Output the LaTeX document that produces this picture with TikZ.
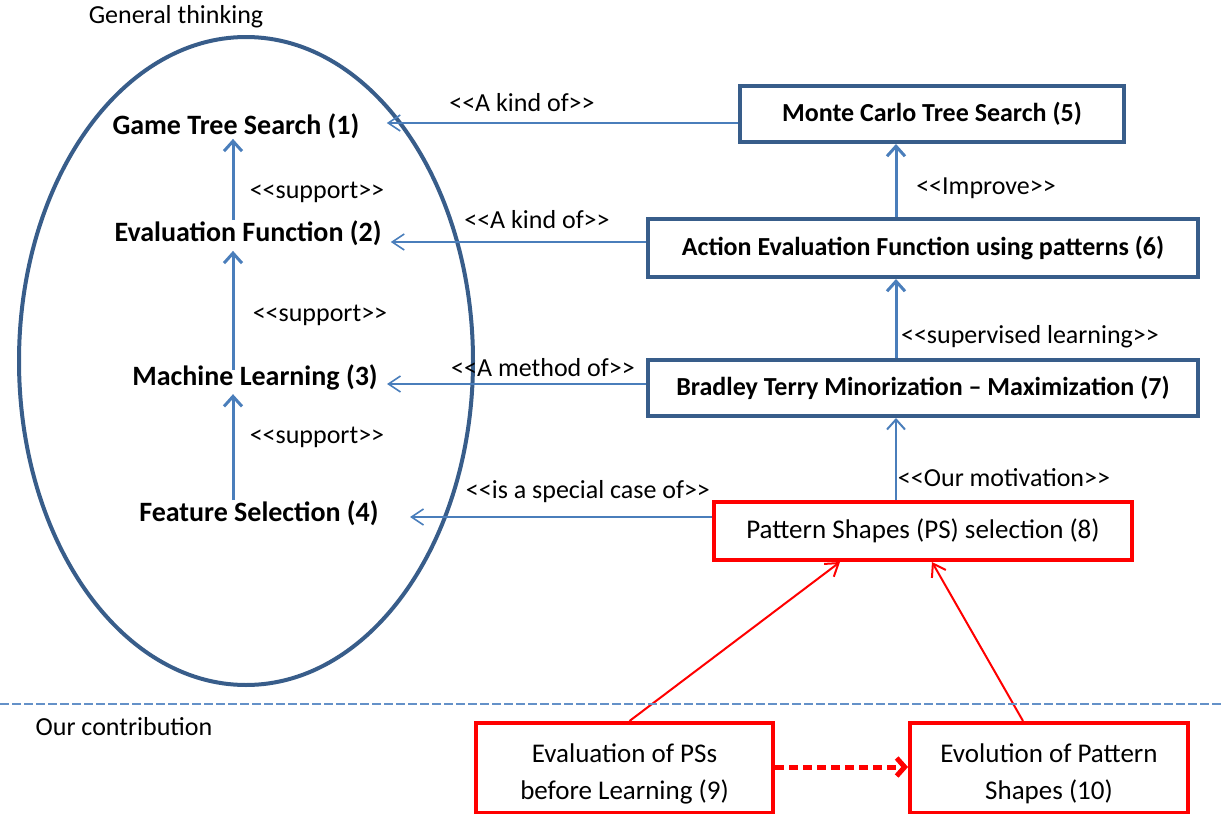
\documentclass[tikz,border=0pt]{standalone}
\usepackage{fontspec}
\setmainfont{Carlito}
\usetikzlibrary{arrows.meta,shapes.geometric}
\definecolor{boxblue}{RGB}{56,93,138}
\definecolor{arrblue}{RGB}{74,126,187}
\definecolor{seplblue}{RGB}{100,145,200}
\definecolor{myred}{RGB}{255,0,0}
\begin{document}
\begin{tikzpicture}[x=0.5pt,y=-0.5pt,
  concept/.style={font=\fontsize{14}{16}\selectfont\bfseries, inner sep=0pt},
  bluebox/.style={draw=boxblue, line width=2pt, font=\fontsize{13}{15}\selectfont\bfseries, minimum height=28pt, inner sep=0pt},
  redbox/.style={draw=myred, line width=2pt, font=\fontsize{13.5}{18.5}\selectfont, align=center, inner sep=0pt},
  lbl/.style={font=\fontsize{13}{15}\selectfont, inner sep=0pt},
  thickarr/.style={draw=arrblue, line width=1.5pt, -{Straight Barb[length=5pt,width=9pt]}},
  thinarr/.style={draw=arrblue, line width=0.8pt, -{Straight Barb[length=6pt,width=8pt]}},
  redarr/.style={draw=myred, line width=1pt, -{Straight Barb[length=6pt,width=8pt]}},
]
\useasboundingbox (0,0) rectangle (1223,814);

% left area
\node[lbl] (gen) at (176,17) {General thinking};
\node[ellipse, draw=boxblue, line width=2pt, minimum width=227pt, minimum height=324pt, inner sep=0pt] (area) at (246,361) {};

\node[concept] (n1) at (236,126) {Game Tree Search (1)};
\node[concept] (n2) at (248,233) {Evaluation Function (2)};
\node[concept] (n3) at (255,377) {Machine Learning (3)};
\node[concept] (n4) at (259,513) {Feature Selection (4)};

\coordinate (ax) at (233,0);
\draw[thickarr] (n2.north -| ax) -- (n1.south -| ax);
\draw[thickarr, shorten <=-3pt, shorten >=2.5pt] (n3.north -| ax) -- (n2.south -| ax);
\draw[thickarr, shorten >=2pt] (n4.north -| ax) -- (n3.south -| ax);

\node[lbl] (s1) at (317,192) {<{}<support>{}>};
\node[lbl] (s2) at (320,315) {<{}<support>{}>};
\node[lbl] (s3) at (317,437) {<{}<support>{}>};

% right boxes
\node[bluebox, minimum width=192pt] (b5) at (932,114) {Monte Carlo Tree Search (5)};
\node[bluebox, minimum width=275pt, minimum height=29pt] (b6) at (923,248) {Action Evaluation Function using patterns (6)};
\node[bluebox, minimum width=275pt] (b7) at (923,388) {Bradley Terry Minorization -- Maximization (7)};
\node[redbox, minimum width=209pt, minimum height=29pt] (b8) at (923,531) {Pattern Shapes (PS) selection (8)};
\node[redbox, minimum width=148.5pt, minimum height=45pt] (b9) at (624.5,768) {\rule{0pt}{15pt}Evaluation of PSs\\before Learning (9)};
\node[redbox, minimum width=139pt, minimum height=45pt] (b10) at (1049,768) {\rule{0pt}{15pt}Evolution of Pattern\\Shapes (10)};

% horizontal connectors
\draw[thinarr, shorten >=13.5pt] ([yshift=-4.5pt]b5.west) -- ([yshift=-4.5pt]b5.west -| n1.east);
\draw[thinarr, shorten >=4.5pt] ([yshift=3pt]b6.west) -- ([yshift=3pt]b6.west -| n2.east);
\draw[thinarr, shorten >=4.5pt] ([yshift=2pt]b7.west) -- ([yshift=2pt]b7.west -| n3.east);
\draw[thinarr, shorten >=15.5pt] ([yshift=7pt]b8.west) -- ([yshift=7pt]b8.west -| n4.east);

\node[lbl] (k1) at (522,103) {<{}<A kind of>{}>};
\node[lbl] (k2) at (537,220) {<{}<A kind of>{}>};
\node[lbl] (k3) at (543,368) {<{}<A method of>{}>};
\node[lbl] (k4) at (588,492) {<{}<is a special case of>{}>};

% right vertical connectors
\coordinate (rx) at (896,0);
\draw[thickarr] (b6.north -| rx) -- (b5.south -| rx);
\draw[thickarr] (b7.north -| rx) -- (b6.south -| rx);
\draw[thickarr, line width=1pt] (b8.north -| rx) -- (b7.south -| rx);

\node[lbl] (i1) at (986,188) {<{}<Improve>{}>};
\node[lbl] (i2) at (1030,337) {<{}<supervised learning>{}>};
\node[lbl] (i3) at (1004,478) {<{}<Our motivation>{}>};

% red connectors
\draw[redarr] ([xshift=2.5pt]b9.north) -- ([xshift=-41.5pt]b8.south);
\draw[redarr] ([xshift=-13pt]b10.north) -- ([xshift=4.5pt]b8.south);
\draw[draw=myred, line width=2.5pt, dash pattern=on 4.5pt off 2.5pt, -{Straight Barb[length=4pt,width=9pt]}] ([yshift=0.5pt]b9.east) -- ([yshift=0.5pt]b10.west);

% separator
\draw[seplblue, line width=1pt, dash pattern=on 4.5pt off 1.5pt] (0,704) -- (1223,704);
\node[lbl] (oc) at (124,727) {Our contribution};
\end{tikzpicture}
\end{document}
